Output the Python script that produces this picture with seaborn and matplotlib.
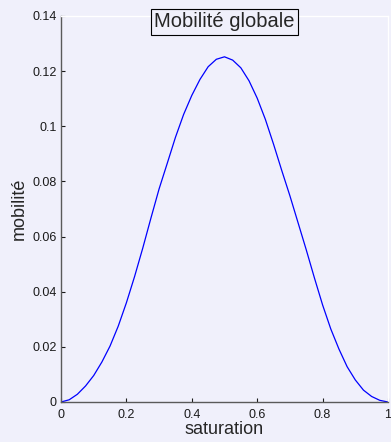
import matplotlib
matplotlib.use("Agg")
import matplotlib.pyplot as plt
import seaborn as sns
import pandas as pd

saturation = [0, .025, .05, .075, .1, .125, .15, .175, .2, .225, .25, .275, .3, .325, .35,
              .375, .4, .425, .45, .475, .5, .525, .55, .575, .6, .625, .65, .675, .7, .725,
              .75, .775, .8, .825, .85, .875, .9, .925, .95, .975, 1.0]
mobilite = [0, 0.0008, 0.0028, 0.0058, 0.0096, 0.0145, 0.0203, 0.0275, 0.036, 0.0455,
            0.0558, 0.0667, 0.0773, 0.0866, 0.0960, 0.1043, 0.1112, 0.1170, 0.1216, 0.1243,
            0.1252, 0.1240, 0.1212, 0.1165, 0.1102, 0.1025, 0.0935, 0.0840, 0.0748, 0.0650,
            0.0552, 0.0450, 0.0352, 0.0265, 0.0192, 0.0128, 0.0080, 0.0043, 0.0020, 0.0006, 0]
xticks = [0, 0.2, 0.4, 0.6, 0.8, 1]
xticklabels = ["0", "0.2", "0.4", "0.6", "0.8", "1"]
yticks = [0, 0.02, 0.04, 0.06, 0.08, 0.1, 0.12, 0.14]
yticklabels = ["0", "0.02", "0.04", "0.06", "0.08", "0.1", "0.12", "0.14"]

bg = "#f0f0fb"
sns.set_style("ticks", rc={"axes.facecolor": bg, "figure.facecolor": bg})
plt.rcParams["font.family"] = ["Liberation Sans", "DejaVu Sans"]

df = pd.DataFrame({"saturation": saturation, "mobilité": mobilite})

fig = plt.figure(figsize=(3.91, 4.42), dpi=100)
ax = fig.add_axes([61/391, 40/442, 327/391, 386/442])
sns.lineplot(data=df, x="saturation", y="mobilité", ax=ax, color="#0000ff", lw=0.9)

ax.set_xlim(0, 1)
ax.set_ylim(0, 0.14)
ax.set_xticks(xticks)
ax.set_xticklabels(xticklabels)
ax.set_yticks(yticks)
ax.set_yticklabels(yticklabels)
ax.tick_params(direction="in", length=3, width=0.8, labelsize=9, colors="#1a1a1a", pad=3)
ax.tick_params(axis="x", pad=5)
for s in ("left", "bottom"):
    ax.spines[s].set_color("#5a5a5a")
    ax.spines[s].set_linewidth(1.0)
for s in ("top", "right"):
    ax.spines[s].set_color("white")
    ax.spines[s].set_linewidth(1.0)

ax.set_xlabel("saturation", fontsize=13, labelpad=0)
ax.set_ylabel("mobilité", fontsize=13, labelpad=3)
ax.text(0.5, 0.9845, "Mobilité globale", transform=ax.transAxes, ha="center", va="center",
        fontsize=14.5, bbox=dict(boxstyle="square,pad=0.17", fc=bg, ec="black", lw=0.8))

fig.savefig("out.png", dpi=100, facecolor=bg)
